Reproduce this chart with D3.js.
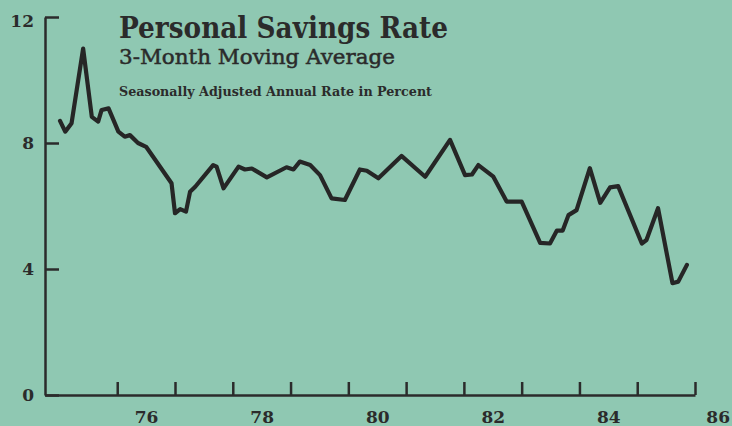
<!DOCTYPE html>
<html>
<head>
<meta charset="utf-8">
<script src="https://cdn.jsdelivr.net/npm/d3@7"></script>
<style>
  html, body { margin: 0; padding: 0; background: #8fc8b2; }
  #chart { width: 732px; height: 426px; overflow: hidden; }
  text { fill: #2b2b2b; font-family: "DejaVu Serif", "Liberation Serif", serif; }
</style>
</head>
<body>
<div id="chart"></div>
<script>
// decimal years of the line's corners
var years = [1975.01, 1975.10, 1975.21, 1975.41, 1975.56, 1975.67, 1975.73, 1975.85,
  1976.02, 1976.13, 1976.22, 1976.36, 1976.50, 1976.94, 1977.00, 1977.09, 1977.19,
  1977.26, 1977.35, 1977.66, 1977.72, 1977.84, 1978.10, 1978.21, 1978.33, 1978.59,
  1978.93, 1979.05, 1979.16, 1979.34, 1979.51, 1979.71, 1979.94, 1980.20, 1980.32,
  1980.52, 1980.92, 1981.33, 1981.76, 1982.02, 1982.14, 1982.25, 1982.51, 1982.74,
  1983.00, 1983.32, 1983.49, 1983.61, 1983.71, 1983.81, 1983.95, 1984.18, 1984.36,
  1984.53, 1984.67, 1985.08, 1985.16, 1985.36, 1985.61, 1985.71, 1985.86];
// savings rate, percent
var rates = [8.70, 8.36, 8.63, 11.0, 8.83, 8.68, 9.05, 9.10,
  8.36, 8.20, 8.25, 8.00, 7.88, 6.72, 5.77, 5.90, 5.82,
  6.45, 6.61, 7.30, 7.25, 6.56, 7.25, 7.16, 7.19, 6.91,
  7.23, 7.16, 7.41, 7.30, 6.98, 6.24, 6.19, 7.16, 7.12,
  6.88, 7.59, 6.93, 8.10, 6.98, 7.00, 7.30, 6.93, 6.14,
  6.14, 4.83, 4.81, 5.22, 5.22, 5.71, 5.87, 7.20, 6.10,
  6.59, 6.63, 4.81, 4.92, 5.93, 3.55, 3.60, 4.13];

var yTicks = [0, 4, 8, 12];
var yearTicks = [1976, 1977, 1978, 1979, 1980, 1981, 1982, 1983, 1984, 1985, 1986];
var labelYears = [1976.5, 1978.5, 1980.5, 1982.5, 1984.5, 1986.5];
var labelText = ["76", "78", "80", "82", "84", "86"];

var width = 732, height = 426;

var x = d3.scaleLinear().domain([1974.75, 1986]).range([45, 695]);
var y = d3.scaleLinear().domain([0, 12]).range([395, 17]);

var svg = d3.select("#chart").append("svg")
    .attr("width", width)
    .attr("height", height);

// titles
svg.append("text")
    .attr("x", 119).attr("y", 38)
    .attr("textLength", 329).attr("lengthAdjust", "spacingAndGlyphs")
    .style("font-size", "29px").style("font-weight", "bold")
    .text("Personal Savings Rate");
svg.append("text")
    .attr("x", 119).attr("y", 64)
    .attr("textLength", 276).attr("lengthAdjust", "spacingAndGlyphs")
    .style("font-size", "21px")
    .style("stroke", "#2b2b2b").style("stroke-width", 0.5)
    .text("3-Month Moving Average");
svg.append("text")
    .attr("x", 119).attr("y", 96)
    .attr("textLength", 313).attr("lengthAdjust", "spacingAndGlyphs")
    .style("font-size", "13.5px").style("font-weight", "bold")
    .text("Seasonally Adjusted Annual Rate in Percent");

// y axis, ticks pointing into the plot
var yAxis = d3.axisLeft(y)
    .tickValues(yTicks)
    .tickSizeInner(-14)
    .tickSizeOuter(0)
    .tickPadding(11);

var gy = svg.append("g")
    .attr("transform", "translate(45,0)")
    .call(yAxis);
gy.select(".domain").attr("stroke", "#2b2b2b").attr("stroke-width", 2.5);
gy.selectAll(".tick line").attr("stroke", "#2b2b2b").attr("stroke-width", 2.5);
gy.selectAll(".tick text")
    .attr("fill", "#2b2b2b")
    .style("font-family", "'DejaVu Serif', serif")
    .style("font-size", "17px").style("font-weight", "bold")
    .attr("dy", function(d) { return d == 12 ? "0.55em" : "0.32em"; });

// x axis: year ticks pointing up, labels set between them
var xAxis = d3.axisBottom(x)
    .tickValues(yearTicks)
    .tickSizeInner(-13)
    .tickSizeOuter(0)
    .tickFormat("");

var gx = svg.append("g")
    .attr("transform", "translate(0," + y(0) + ")")
    .call(xAxis);
gx.select(".domain").attr("stroke", "#2b2b2b").attr("stroke-width", 2.5);
gx.selectAll(".tick line").attr("stroke", "#2b2b2b").attr("stroke-width", 2.5);

var xLabels = d3.axisBottom(x)
    .tickValues(labelYears)
    .tickSize(0)
    .tickPadding(16)
    .tickFormat(function(d, i) { return labelText[i]; });

var gl = svg.append("g")
    .attr("transform", "translate(0," + y(0) + ")")
    .call(xLabels);
gl.select(".domain").remove();
gl.selectAll(".tick text")
    .attr("fill", "#2b2b2b")
    .style("font-family", "'DejaVu Serif', serif")
    .style("font-size", "17px").style("font-weight", "bold");

// keep the last label inside the picture
gl.selectAll(".tick text").each(function() {
  var b = this.getBBox();
  var tx = +d3.select(this.parentNode).attr("transform").match(/translate\(([-\d.]+)/)[1];
  var over = tx + b.x + b.width - (width - 2);
  if (over > 0) d3.select(this).attr("x", -over);
});

// the series
var pts = years.map(function(d, i) { return [d, rates[i]]; });
var line = d3.line()
    .x(function(d) { return x(d[0]); })
    .y(function(d) { return y(d[1]); });

svg.append("path")
    .datum(pts)
    .attr("d", line)
    .attr("fill", "none")
    .attr("stroke", "#262626")
    .attr("stroke-width", 4.2)
    .attr("stroke-linejoin", "round")
    .attr("stroke-linecap", "round");
</script>
</body>
</html>
